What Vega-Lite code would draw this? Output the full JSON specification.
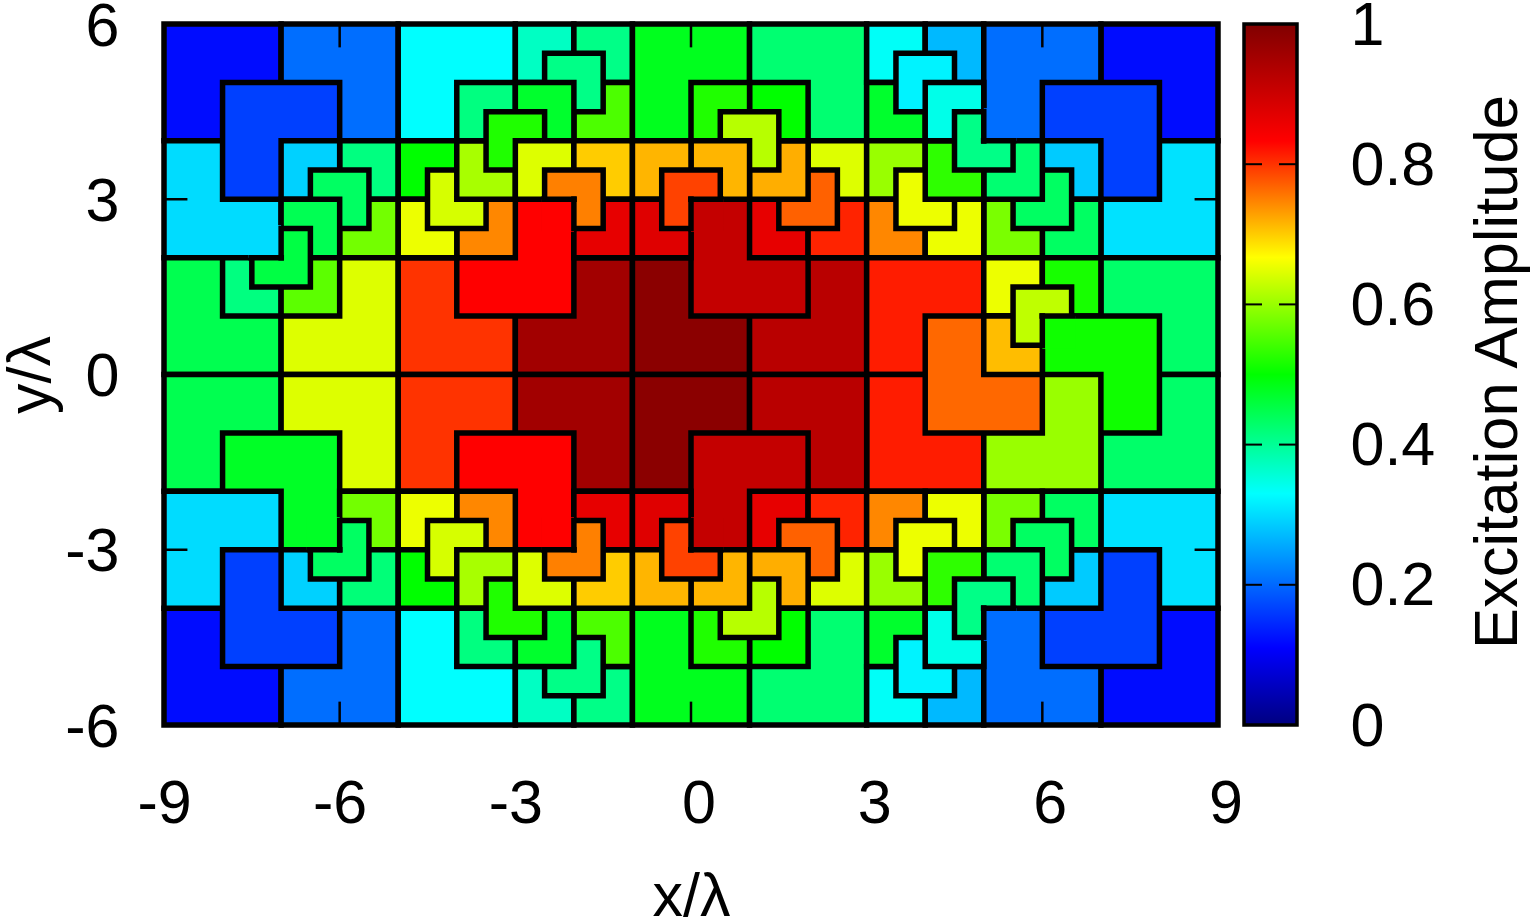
{"$schema":"https://vega.github.io/schema/vega-lite/v6.json","background":"white","padding":{"left":0,"top":-5,"right":0,"bottom":0},"config":{"view":{"stroke":null},"font":"Liberation Sans"},"spacing":-1,"datasets":{"tiles":[
{"x0":-9,"x1":-7,"y0":4,"y1":6,"v":0.12},{"x0":-7,"x1":-5,"y0":4,"y1":6,"v":0.205},{"x0":-9,"x1":-7,"y0":2,"y1":4,"v":0.30},{"x0":-8,"x1":-6,"y0":3,"y1":5,"v":0.165},{"x0":-6,"x1":-5,"y0":3,"y1":4,"v":0.415},{"x0":-6,"x1":-5,"y0":2,"y1":3,"v":0.575},{"x0":-7,"x1":-6,"y0":3,"y1":4,"v":0.29},{"x0":-6.5,"x1":-5.5,"y0":2.5,"y1":3.5,"v":0.435},{"x0":-7,"x1":-6,"y0":2,"y1":3,"v":0.445},{"x0":-9,"x1":-7,"y0":0,"y1":2,"v":0.447},{"x0":-7,"x1":-5,"y0":0,"y1":2,"v":0.645},{"x0":-8,"x1":-7,"y0":1,"y1":2,"v":0.415},{"x0":-7,"x1":-6,"y0":1,"y1":2,"v":0.56},{"x0":-7.5,"x1":-6.5,"y0":1.5,"y1":2.5,"v":0.455},
{"x0":-5,"x1":-3,"y0":4,"y1":6,"v":0.33},{"x0":-5,"x1":-3,"y0":0,"y1":2,"v":0.80},{"x0":-3,"x1":-1,"y0":0,"y1":2,"v":0.955},{"x0":-4,"x1":-2,"y0":1,"y1":3,"v":0.833},{"x0":-4,"x1":-3,"y0":2,"y1":3,"v":0.745},{"x0":-5,"x1":-4,"y0":3,"y1":4,"v":0.5},{"x0":-5,"x1":-4,"y0":2,"y1":3,"v":0.655},{"x0":-4.5,"x1":-3.5,"y0":2.5,"y1":3.5,"v":0.64},{"x0":-4,"x1":-3,"y0":3,"y1":4,"v":0.61},{"x0":-4,"x1":-3,"y0":4,"y1":5,"v":0.415},{"x0":-3,"x1":-2,"y0":5,"y1":6,"v":0.37},{"x0":-2,"x1":-1,"y0":5,"y1":6,"v":0.41},{"x0":-2,"x1":-1,"y0":4,"y1":5,"v":0.55},{"x0":-2.5,"x1":-1.5,"y0":4.5,"y1":5.5,"v":0.41},{"x0":-3,"x1":-2,"y0":4,"y1":5,"v":0.47},{"x0":-3.5,"x1":-2.5,"y0":3.5,"y1":4.5,"v":0.52},{"x0":-3,"x1":-2,"y0":3,"y1":4,"v":0.645},{"x0":-2,"x1":-1,"y0":3,"y1":4,"v":0.70},{"x0":-2,"x1":-1,"y0":2,"y1":3,"v":0.865},{"x0":-2.5,"x1":-1.5,"y0":2.5,"y1":3.5,"v":0.75},
{"x0":-1,"x1":1,"y0":4,"y1":6,"v":0.48},{"x0":-1,"x1":1,"y0":0,"y1":2,"v":0.985},{"x0":1,"x1":3,"y0":0,"y1":2,"v":0.925},{"x0":1,"x1":3,"y0":4,"y1":6,"v":0.425},{"x0":0,"x1":2,"y0":1,"y1":3,"v":0.91},{"x0":1,"x1":2,"y0":2,"y1":3,"v":0.865},{"x0":2,"x1":3,"y0":2,"y1":3,"v":0.81},{"x0":2,"x1":3,"y0":3,"y1":4,"v":0.645},{"x0":1.5,"x1":2.5,"y0":2.5,"y1":3.5,"v":0.77},{"x0":1,"x1":2,"y0":3,"y1":4,"v":0.72},{"x0":1,"x1":2,"y0":4,"y1":5,"v":0.50},{"x0":0,"x1":1,"y0":4,"y1":5,"v":0.52},{"x0":0.5,"x1":1.5,"y0":3.5,"y1":4.5,"v":0.62},{"x0":0,"x1":1,"y0":3,"y1":4,"v":0.715},{"x0":-1,"x1":0,"y0":3,"y1":4,"v":0.715},{"x0":-1,"x1":0,"y0":2,"y1":3,"v":0.875},{"x0":-0.5,"x1":0.5,"y0":2.5,"y1":3.5,"v":0.79},
{"x0":3,"x1":4,"y0":5,"y1":6,"v":0.335},{"x0":4,"x1":5,"y0":5,"y1":6,"v":0.27},{"x0":3,"x1":4,"y0":4,"y1":5,"v":0.47},{"x0":3.5,"x1":4.5,"y0":4.5,"y1":5.5,"v":0.32},{"x0":7,"x1":9,"y0":4,"y1":6,"v":0.12},{"x0":5,"x1":7,"y0":4,"y1":6,"v":0.205},{"x0":7,"x1":9,"y0":2,"y1":4,"v":0.305},{"x0":6,"x1":8,"y0":3,"y1":5,"v":0.165},{"x0":6,"x1":7,"y0":3,"y1":4,"v":0.285},{"x0":6,"x1":7,"y0":2,"y1":3,"v":0.435},{"x0":5,"x1":6,"y0":2,"y1":3,"v":0.58},{"x0":5.5,"x1":6.5,"y0":2.5,"y1":3.5,"v":0.435},{"x0":5,"x1":6,"y0":3,"y1":4,"v":0.425},{"x0":3,"x1":4,"y0":3,"y1":4,"v":0.60},{"x0":3,"x1":4,"y0":2,"y1":3,"v":0.745},{"x0":4,"x1":5,"y0":2,"y1":3,"v":0.655},{"x0":3.5,"x1":4.5,"y0":2.5,"y1":3.5,"v":0.655},{"x0":4,"x1":5,"y0":3,"y1":4,"v":0.53},{"x0":4,"x1":5,"y0":4,"y1":5,"v":0.345},{"x0":4.5,"x1":5.5,"y0":3.5,"y1":4.5,"v":0.41},
{"x0":3,"x1":5,"y0":0,"y1":2,"v":0.815},{"x0":3,"x1":5,"y0":-2,"y1":0,"v":0.815},{"x0":7,"x1":9,"y0":0,"y1":2,"v":0.43},{"x0":7,"x1":9,"y0":-2,"y1":0,"v":0.43},{"x0":5,"x1":6,"y0":1,"y1":2,"v":0.655},{"x0":6,"x1":7,"y0":1,"y1":2,"v":0.515},{"x0":6,"x1":8,"y0":-1,"y1":1,"v":0.51},{"x0":5,"x1":7,"y0":-2,"y1":0,"v":0.60},{"x0":4,"x1":6,"y0":-1,"y1":1,"v":0.765},{"x0":5,"x1":6,"y0":0,"y1":1,"v":0.71},{"x0":5.5,"x1":6.5,"y0":0.5,"y1":1.5,"v":0.625},
{"x0":-9,"x1":-7,"y0":-6,"y1":-4,"v":0.12},{"x0":-7,"x1":-5,"y0":-6,"y1":-4,"v":0.205},{"x0":-9,"x1":-7,"y0":-2,"y1":0,"v":0.447},{"x0":-7,"x1":-5,"y0":-2,"y1":0,"v":0.645},{"x0":-8,"x1":-6,"y0":-3,"y1":-1,"v":0.475},{"x0":-9,"x1":-7,"y0":-4,"y1":-2,"v":0.30},{"x0":-8,"x1":-6,"y0":-5,"y1":-3,"v":0.165},{"x0":-7,"x1":-6,"y0":-4,"y1":-3,"v":0.29},{"x0":-6,"x1":-5,"y0":-3,"y1":-2,"v":0.575},{"x0":-6,"x1":-5,"y0":-4,"y1":-3,"v":0.42},{"x0":-6.5,"x1":-5.5,"y0":-3.5,"y1":-2.5,"v":0.435},
{"x0":-5,"x1":-3,"y0":-6,"y1":-4,"v":0.33},{"x0":-5,"x1":-3,"y0":-2,"y1":0,"v":0.80},{"x0":-3,"x1":-1,"y0":-2,"y1":0,"v":0.955},{"x0":-4,"x1":-2,"y0":-3,"y1":-1,"v":0.833},{"x0":-4,"x1":-3,"y0":-3,"y1":-2,"v":0.745},{"x0":-5,"x1":-4,"y0":-3,"y1":-2,"v":0.655},{"x0":-5,"x1":-4,"y0":-4,"y1":-3,"v":0.5},{"x0":-4.5,"x1":-3.5,"y0":-3.5,"y1":-2.5,"v":0.64},{"x0":-4,"x1":-3,"y0":-4,"y1":-3,"v":0.61},{"x0":-4,"x1":-3,"y0":-5,"y1":-4,"v":0.415},{"x0":-3,"x1":-2,"y0":-6,"y1":-5,"v":0.37},{"x0":-2,"x1":-1,"y0":-6,"y1":-5,"v":0.41},{"x0":-2,"x1":-1,"y0":-5,"y1":-4,"v":0.55},{"x0":-2.5,"x1":-1.5,"y0":-5.5,"y1":-4.5,"v":0.41},{"x0":-3,"x1":-2,"y0":-5,"y1":-4,"v":0.47},{"x0":-3.5,"x1":-2.5,"y0":-4.5,"y1":-3.5,"v":0.52},{"x0":-3,"x1":-2,"y0":-4,"y1":-3,"v":0.645},{"x0":-2,"x1":-1,"y0":-4,"y1":-3,"v":0.70},{"x0":-2,"x1":-1,"y0":-3,"y1":-2,"v":0.865},{"x0":-2.5,"x1":-1.5,"y0":-3.5,"y1":-2.5,"v":0.75},
{"x0":-1,"x1":1,"y0":-6,"y1":-4,"v":0.48},{"x0":-1,"x1":1,"y0":-2,"y1":0,"v":0.985},{"x0":1,"x1":3,"y0":-2,"y1":0,"v":0.925},{"x0":1,"x1":3,"y0":-6,"y1":-4,"v":0.425},{"x0":0,"x1":2,"y0":-3,"y1":-1,"v":0.91},{"x0":1,"x1":2,"y0":-3,"y1":-2,"v":0.865},{"x0":2,"x1":3,"y0":-3,"y1":-2,"v":0.81},{"x0":2,"x1":3,"y0":-4,"y1":-3,"v":0.645},{"x0":1.5,"x1":2.5,"y0":-3.5,"y1":-2.5,"v":0.77},{"x0":1,"x1":2,"y0":-4,"y1":-3,"v":0.72},{"x0":1,"x1":2,"y0":-5,"y1":-4,"v":0.50},{"x0":0,"x1":1,"y0":-5,"y1":-4,"v":0.52},{"x0":0.5,"x1":1.5,"y0":-4.5,"y1":-3.5,"v":0.62},{"x0":0,"x1":1,"y0":-4,"y1":-3,"v":0.715},{"x0":-1,"x1":0,"y0":-3,"y1":-2,"v":0.875},{"x0":-1,"x1":0,"y0":-4,"y1":-3,"v":0.715},{"x0":-0.5,"x1":0.5,"y0":-3.5,"y1":-2.5,"v":0.79},
{"x0":3,"x1":4,"y0":-6,"y1":-5,"v":0.335},{"x0":4,"x1":5,"y0":-6,"y1":-5,"v":0.27},{"x0":3,"x1":4,"y0":-5,"y1":-4,"v":0.47},{"x0":3.5,"x1":4.5,"y0":-5.5,"y1":-4.5,"v":0.32},{"x0":7,"x1":9,"y0":-6,"y1":-4,"v":0.12},{"x0":5,"x1":7,"y0":-6,"y1":-4,"v":0.205},{"x0":7,"x1":9,"y0":-4,"y1":-2,"v":0.305},{"x0":6,"x1":8,"y0":-5,"y1":-3,"v":0.165},{"x0":6,"x1":7,"y0":-4,"y1":-3,"v":0.285},{"x0":6,"x1":7,"y0":-3,"y1":-2,"v":0.435},{"x0":5,"x1":6,"y0":-3,"y1":-2,"v":0.58},{"x0":5.5,"x1":6.5,"y0":-3.5,"y1":-2.5,"v":0.435},{"x0":5,"x1":6,"y0":-4,"y1":-3,"v":0.425},{"x0":3,"x1":4,"y0":-4,"y1":-3,"v":0.60},{"x0":3,"x1":4,"y0":-3,"y1":-2,"v":0.745},{"x0":4,"x1":5,"y0":-3,"y1":-2,"v":0.655},{"x0":3.5,"x1":4.5,"y0":-3.5,"y1":-2.5,"v":0.655},{"x0":4,"x1":5,"y0":-4,"y1":-3,"v":0.53},{"x0":4,"x1":5,"y0":-5,"y1":-4,"v":0.345},{"x0":4.5,"x1":5.5,"y0":-4.5,"y1":-3.5,"v":0.41}
],"patches":[
{"x0":-7.56,"x1":-7,"y0":2,"y1":2.56,"v":0.30},{"x0":-2.56,"x1":-2,"y0":2.44,"y1":3,"v":0.833},{"x0":0,"x1":0.56,"y0":2.44,"y1":3,"v":0.91},{"x0":5,"x1":5.56,"y0":4,"y1":4.56,"v":0.205},{"x0":6,"x1":6.56,"y0":0.44,"y1":1,"v":0.51},{"x0":-6.56,"x1":-6,"y0":-3,"y1":-2.44,"v":0.475},{"x0":-2.56,"x1":-2,"y0":-3,"y1":-2.44,"v":0.833},{"x0":0,"x1":0.56,"y0":-3,"y1":-2.44,"v":0.91},{"x0":5,"x1":5.56,"y0":-4.56,"y1":-4,"v":0.205}
],"edges":[
{"x0":-7,"x1":-7,"y0":1.95,"y1":2.55},{"x0":-7.56,"x1":-6.95,"y0":2,"y1":2},
{"x0":-2,"x1":-2,"y0":2.45,"y1":3.05},{"x0":-2.56,"x1":-1.95,"y0":3,"y1":3},
{"x0":0,"x1":0,"y0":2.45,"y1":3.05},{"x0":-0.05,"x1":0.56,"y0":3,"y1":3},
{"x0":5,"x1":5,"y0":3.95,"y1":4.55},{"x0":4.95,"x1":5.56,"y0":4,"y1":4},
{"x0":6,"x1":6,"y0":0.45,"y1":1.05},{"x0":5.95,"x1":6.56,"y0":1,"y1":1},
{"x0":-6,"x1":-6,"y0":-3.05,"y1":-2.45},{"x0":-6.56,"x1":-5.95,"y0":-3,"y1":-3},
{"x0":-2,"x1":-2,"y0":-3.05,"y1":-2.45},{"x0":-2.56,"x1":-1.95,"y0":-3,"y1":-3},
{"x0":0,"x1":0,"y0":-3.05,"y1":-2.45},{"x0":-0.05,"x1":0.56,"y0":-3,"y1":-3},
{"x0":5,"x1":5,"y0":-4.55,"y1":-3.95},{"x0":4.95,"x1":5.56,"y0":-4,"y1":-4}
],"ticks":[
{"x0":-6,"x1":-6,"y0":6,"y1":5.6},{"x0":-3,"x1":-3,"y0":6,"y1":5.6},{"x0":0,"x1":0,"y0":6,"y1":5.6},{"x0":3,"x1":3,"y0":6,"y1":5.6},{"x0":6,"x1":6,"y0":6,"y1":5.6},
{"x0":-6,"x1":-6,"y0":-6,"y1":-5.6},{"x0":-3,"x1":-3,"y0":-6,"y1":-5.6},{"x0":0,"x1":0,"y0":-6,"y1":-5.6},{"x0":3,"x1":3,"y0":-6,"y1":-5.6},{"x0":6,"x1":6,"y0":-6,"y1":-5.6},
{"x0":-9,"x1":-8.6,"y0":3,"y1":3},{"x0":-9,"x1":-8.6,"y0":0,"y1":0},{"x0":-9,"x1":-8.6,"y0":-3,"y1":-3},
{"x0":9,"x1":8.6,"y0":3,"y1":3},{"x0":9,"x1":8.6,"y0":0,"y1":0},{"x0":9,"x1":8.6,"y0":-3,"y1":-3}
]},
"hconcat":[
{"width":1054,"height":701,
"encoding":{
"x":{"field":"x0","type":"quantitative","scale":{"domain":[-9,9],"nice":false,"zero":false},"axis":{"values":[-9,-6,-3,0,3,6,9],"labelExpr":"''+datum.value","labelOffset":{"expr":"datum.value>=0?7.5:0"},"grid":false,"domain":false,"ticks":false,"labelFontSize":61,"labelPadding":49,"labelColor":"black","labelFlush":false,"title":"x/λ","titleFontSize":61,"titleFontWeight":"normal","titleColor":"black","titlePadding":33}},
"x2":{"field":"x1"},
"y":{"field":"y0","type":"quantitative","scale":{"domain":[-6,6],"nice":false,"zero":false},"axis":{"values":[-6,-3,0,3,6],"labelExpr":"''+datum.value","labelOffset":3,"grid":false,"domain":false,"ticks":false,"labelFontSize":61,"labelPadding":45,"labelColor":"black","labelFlush":false,"title":"y/λ","titleFontSize":61,"titleFontWeight":"normal","titleColor":"black","titlePadding":2}},
"y2":{"field":"y1"}},
"layer":[
{"data":{"name":"tiles"},"mark":{"type":"rect","stroke":"black","strokeWidth":5.5,"strokeJoin":"miter"},"encoding":{"color":{"field":"v","type":"quantitative","legend":null,"scale":{"interpolate":"rgb","domain":[0,0.11,0.33,0.5,0.667,0.833,1],"range":["#000080","#0000ff","#00ffff","#00ff00","#ffff00","#ff0000","#800000"]}}}},
{"data":{"name":"patches"},"mark":{"type":"rect","strokeWidth":0},"encoding":{"color":{"field":"v","type":"quantitative","legend":null,"scale":{"interpolate":"rgb","domain":[0,0.11,0.33,0.5,0.667,0.833,1],"range":["#000080","#0000ff","#00ffff","#00ff00","#ffff00","#ff0000","#800000"]}}}},
{"data":{"name":"edges"},"mark":{"type":"rule","color":"black","strokeWidth":5.5}},
{"data":{"name":"ticks"},"mark":{"type":"rule","color":"black","strokeWidth":2.5}}
]},
{"width":53,"height":701,
"encoding":{
"x":{"field":"a","type":"quantitative","scale":{"domain":[0,1],"nice":false,"zero":false},"axis":null},
"x2":{"field":"b"},
"y":{"field":"l","type":"quantitative","scale":{"domain":[0,1],"nice":false,"zero":false},"axis":{"orient":"right","values":[0,0.2,0.4,0.6,0.8,1],"labelExpr":"''+datum.value","labelOffset":2,"grid":false,"domain":false,"ticks":false,"labelFontSize":61,"labelPadding":53,"labelColor":"black","labelFlush":false,"title":"Excitation Amplitude","titleFontSize":61.5,"titleFontWeight":"normal","titleColor":"black","titleAngle":270,"titlePadding":95,"titleY":347.5}}},
"layer":[
{"data":{"values":[{"a":0,"b":1,"l":0,"h":1}]},"mark":{"type":"rect","stroke":"black","strokeWidth":3.5,"fill":{"gradient":"linear","x1":0,"y1":1,"x2":0,"y2":0,"stops":[{"offset":0,"color":"#000080"},{"offset":0.11,"color":"#0000ff"},{"offset":0.33,"color":"#00ffff"},{"offset":0.5,"color":"#00ff00"},{"offset":0.667,"color":"#ffff00"},{"offset":0.833,"color":"#ff0000"},{"offset":1,"color":"#800000"}]}},"encoding":{"y2":{"field":"h"}}},
{"data":{"values":[{"a":0,"b":0.34,"l":0.2},{"a":0.66,"b":1,"l":0.2},{"a":0,"b":0.34,"l":0.4},{"a":0.66,"b":1,"l":0.4},{"a":0,"b":0.34,"l":0.6},{"a":0.66,"b":1,"l":0.6},{"a":0,"b":0.34,"l":0.8},{"a":0.66,"b":1,"l":0.8}]},"mark":{"type":"rule","color":"black","strokeWidth":2}}
]}
]}
